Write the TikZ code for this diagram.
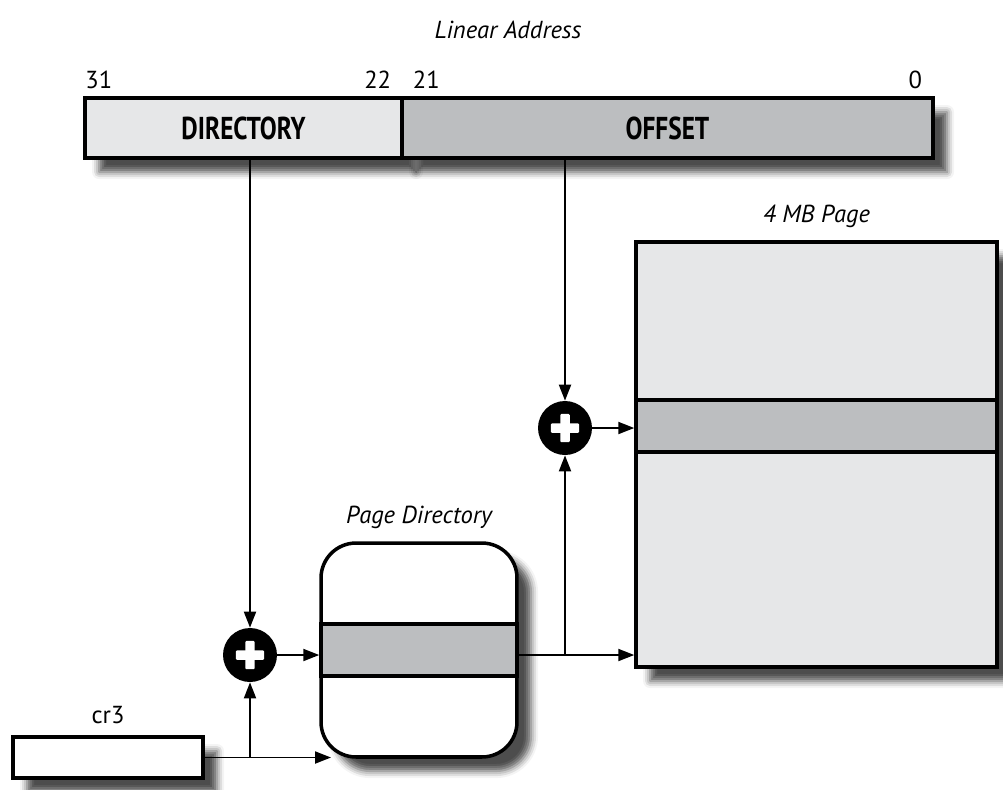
\documentclass[tikz,border=0pt]{standalone}
\usepackage{fontspec}
\setmainfont{PT Sans}
\newfontfamily\fieldfont{PT Sans}[FakeStretch=0.8]
\usepackage{xcolor}
\usetikzlibrary{arrows.meta,positioning,calc,shadows.blur}
\definecolor{pagelight}{HTML}{E6E7E8}
\definecolor{pagemid}{HTML}{BCBEC0}

\begin{document}
\begin{tikzpicture}[x=0.02cm, y=-0.02cm, every node/.style={font=\fontsize{14}{16}\selectfont}, >={Triangle[length=3.2mm,width=2.4mm]},
  field/.style={draw, line width=2pt, inner sep=0pt},
  fieldname/.style={font=\fieldfont\fontsize{18}{20}\selectfont\bfseries},
  shade/.style={blur shadow={shadow xshift=8pt, shadow yshift=-8pt, shadow blur radius=4pt, shadow opacity=70}},
  band/.style={draw, line width=2pt, fill=pagemid, minimum height=1.04cm, inner sep=0pt},
  adder/.style={circle, fill=black, minimum size=1.08cm, inner sep=0pt,
    path picture={
      \fill[white, rounded corners=0.6pt] ([xshift=-8pt,yshift=-2.7pt]path picture bounding box.center) rectangle ([xshift=8pt,yshift=2.7pt]path picture bounding box.center);
      \fill[white, rounded corners=0.6pt] ([xshift=-2.7pt,yshift=-8pt]path picture bounding box.center) rectangle ([xshift=2.7pt,yshift=8pt]path picture bounding box.center);}},
  caption/.style={font=\fontsize{14}{16}\selectfont\itshape},
  link/.style={->, line width=1.1pt}]
\useasboundingbox (0,0) rectangle (1003,789);

% linear address
\node[field, shade, fill=pagelight, fieldname, minimum width=6.34cm, minimum height=1.2cm] (dir) at (243.5,128) {DIRECTORY};
\node[field, shade, fill=pagemid, fieldname, minimum width=10.62cm, minimum height=1.2cm] (off) at (667.5,128) {OFFSET};
\node[caption] (linaddr) at (508,30) {Linear Address};
\node[anchor=south west, inner sep=1pt, yshift=3pt] (b31) at (dir.north west) {31};
\node[anchor=south east, inner sep=1pt, yshift=3pt, xshift=-6pt] (b22) at (dir.north east) {22};
\node[anchor=south west, inner sep=1pt, yshift=3pt, xshift=6pt] (b21) at (off.north west) {21};
\node[anchor=south east, inner sep=1pt, yshift=3pt, xshift=-6pt] (b0) at (off.north east) {0};

% 4 MB page
\node[field, shade, fill=pagelight, minimum width=7.22cm, minimum height=8.5cm] (page) at (816.5,454.5) {};
\node[band, minimum width=7.22cm] (pageent) at (816.5,426) {};
\node[caption, above=0.12cm of page] (pagelbl) {4 MB Page};

% page directory
\node[field, shade, fill=white, rounded corners=0.7cm, minimum width=3.92cm, minimum height=4.28cm] (pgdir) at (419,650) {};
\node[band, minimum width=3.92cm] (pgdirent) at (419,650) {};
\node[caption, above=0.12cm of pgdir] (pgdirlbl) {Page Directory};

% cr3
\node[field, shade, fill=white, minimum width=3.8cm, minimum height=0.82cm] (cr3) at (108,757.5) {};
\node[above=0.1cm of cr3] (cr3lbl) {cr3};

% adders
\node[adder] (plusA) at (250,655) {};
\node[adder] (plusB) at (565,428) {};
\coordinate (pgin) at (331,757.5);

\draw[link] (dir.south -| plusA) -- (plusA);
\draw[link] (off.south -| plusB) -- (plusB);
\draw[link] (cr3.east) -- (pgin);
\draw[link] (cr3.east -| plusA) -- (plusA);
\draw[link] (plusA) -- (plusA -| pgdir.west);
\draw[link] (pgdir.east |- plusA) -- (plusA -| page.west);
\draw[link] (plusA -| plusB) -- (plusB);
\draw[link] (plusB) -- (plusB -| page.west);
\end{tikzpicture}
\end{document}
